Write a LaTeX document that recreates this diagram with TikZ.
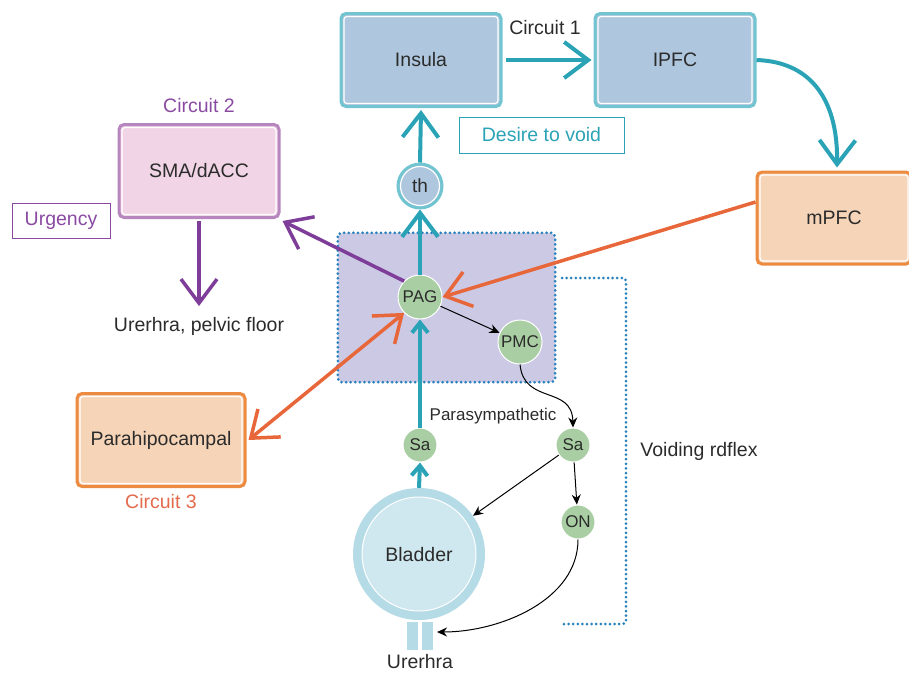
\documentclass[tikz,border=0pt]{standalone}
\usepackage{fontspec}
\setmainfont{Liberation Sans}
\usetikzlibrary{arrows.meta}
\definecolor{tealA}{HTML}{2BA3B6}
\definecolor{tealB}{HTML}{72C4D0}
\definecolor{blueF}{HTML}{AFC7DE}
\definecolor{pinkF}{HTML}{F1D5E6}
\definecolor{pinkB}{HTML}{B886BE}
\definecolor{peachF}{HTML}{F5D4B8}
\definecolor{orangeB}{HTML}{EC8A3F}
\definecolor{orangeA}{HTML}{E8673A}
\definecolor{purpA}{HTML}{7E3D99}
\definecolor{purpT}{HTML}{8A4AA2}
\definecolor{lavF}{HTML}{CCC9E5}
\definecolor{dotB}{HTML}{2A82BC}
\definecolor{greenF}{HTML}{A9CEA3}
\definecolor{bladO}{HTML}{B4DBE6}
\definecolor{bladI}{HTML}{CFE8EF}
\definecolor{txt}{HTML}{2B2B2B}
\definecolor{circ3}{HTML}{E36A4B}
\begin{document}
\begin{tikzpicture}[x=1pt,y=-1pt,
  lbl/.style={text=txt,font=\fontsize{19.5}{22}\selectfont},
  inwhite/.style={path picture={\draw[white,line width=1.2pt,rounded corners=3pt]
     ([shift={(3,3)}]path picture bounding box.north west) rectangle
     ([shift={(-3,-3)}]path picture bounding box.south east);}},
  box/.style={rectangle,rounded corners=5pt,line width=3pt,inwhite,lbl,
     minimum width=160pt,minimum height=93pt,inner sep=0pt},
  tealbox/.style={box,draw=tealB,fill=blueF},
  pinkbox/.style={box,draw=pinkB,fill=pinkF},
  peachbox/.style={box,draw=orangeB,fill=peachF},
  gcirc/.style={circle,fill=greenF,draw=white,line width=1pt,text=txt,
     font=\fontsize{17}{18}\selectfont,inner sep=0pt,minimum size=#1},
  tagbox/.style={rectangle,draw=#1,text=#1,line width=1pt,
     font=\fontsize{19.5}{22}\selectfont,inner sep=0pt},
  bigarrow/.style={line width=4pt,-{Straight Barb[length=24pt,width=36pt]}},
  smallarrow/.style={line width=4pt,-{Straight Barb[length=10pt,width=16pt]}},
  thin/.style={line width=1pt,-{Stealth[length=10pt,width=9pt]}},
  dotline/.style={draw=dotB,line width=3pt,line cap=round,dash pattern=on 0pt off 4.6pt}
]
\useasboundingbox (0,0) rectangle (909,673);

% PAG region
\node[draw=none,fill=lavF,rounded corners=5pt,minimum width=217pt,minimum height=149pt,inner sep=0pt] (region) at (446.5,307.5) {};
\draw[dotline,rounded corners=4pt] (region.north west) rectangle (region.south east);
\coordinate (b1) at (562,278);
\coordinate (b2) at (626,278);
\coordinate (b3) at (626,624);
\coordinate (b4) at (562,624);
\draw[dotline,rounded corners=3pt] (b1) -- (b2) -- (b3) -- (b4);

% boxes
\node[tealbox] (insula) at (421,60) {Insula};
\node[tealbox] (ipfc) at (675,60) {IPFC};
\node[peachbox,minimum width=154pt,minimum height=92pt] (mpfc) at (834,218) {mPFC};
\node[pinkbox] (sma) at (199,171) {SMA/dACC};
\node[peachbox,minimum width=168pt] (para) at (161,440) {Parahipocampal};

% tags
\node[tagbox=tealA,minimum width=165pt,minimum height=36pt] (desire) at (541.5,135) {Desire to void};
\node[tagbox=purpT,minimum width=98pt,minimum height=35pt] (urg) at (61,220.5) {Urgency};
\node[lbl] (c1) at (545,28) {Circuit 1};
\node[lbl,text=purpT] (c2) at (199,106) {Circuit 2};
\node[lbl,text=circ3] (c3) at (161,502) {Circuit 3};
\node[lbl] (uf) at (199,326) {Urerhra, pelvic floor};
\node[lbl] (vr) at (699,451) {Voiding rdflex};
\coordinate (ufend) at (199,306);

% th circle
\node[circle,fill=blueF,draw=tealB,line width=3pt,minimum size=44pt,inner sep=0pt,lbl,font=\fontsize{19}{20}\selectfont,
  path picture={\draw[white,line width=1.2pt] (path picture bounding box.center) circle (19.5pt);}] (th) at (420,186) {th};

% green circles
\node[gcirc=44pt] (pag) at (420,297) {PAG};
\node[gcirc=44pt] (pmc) at (520,342) {PMC};
\node[gcirc=34pt] (sa1) at (420,445) {Sa};
\node[gcirc=34pt] (sa2) at (573,445) {Sa};
\node[gcirc=34pt] (on) at (578,522) {ON};

% bladder
\node[circle,fill=bladO,minimum size=132pt,inner sep=0pt,
  path picture={\fill[bladI] (path picture bounding box.center) circle (57pt);
                \draw[white,line width=1pt] (path picture bounding box.center) circle (57pt);}] (bladder) at (419,554) {};
\node[lbl] (bltext) at (419,555) {Bladder};
\node[fill=bladO,minimum width=11pt,minimum height=28pt,inner sep=0pt] (u1) at (412.5,636) {};
\node[fill=bladO,minimum width=11pt,minimum height=28pt,inner sep=0pt] (u2) at (427.5,636) {};
\node[lbl] (ut) at (420,662) {Urerhra};
\coordinate (uend) at (437,632);

\node[text=txt,font=\fontsize{17}{18}\selectfont] (ps) at (493,416) {Parasympathetic};

% teal arrows
\draw[bigarrow,draw=tealA] (insula.east) ++(3,0) -- ([xshift=-2pt]ipfc.west);
\draw[bigarrow,draw=tealA] (th.north) -- ([yshift=-2pt]insula.south);
\draw[bigarrow,draw=tealA] (pag.north) -- (th.south);
\draw[bigarrow,draw=tealA] (ipfc.east) .. controls (815,62) and (838,105) .. ([xshift=3pt,yshift=3pt]mpfc.north);
\draw[smallarrow,draw=tealA] (sa1.north) -- (pag.south);
\draw[smallarrow,draw=tealA] (bladder.north) -- (sa1.south);

% purple
\draw[bigarrow,draw=purpA,line width=3.5pt] (pag.north west) -- ([shift={(2pt,-2pt)}]sma.south east);
\draw[bigarrow,draw=purpA,line width=3.5pt] ([yshift=-2pt]sma.south) -- (ufend);

% orange
\draw[bigarrow,draw=orangeA,line width=3.5pt] ([yshift=16pt]mpfc.west) -- (pag.east);
\draw[line width=3.5pt,draw=orangeA,{Straight Barb[length=24pt,width=36pt]}-{Straight Barb[length=24pt,width=36pt]}] (pag.south west) -- ([xshift=2pt]para.east);

% thin black
\draw[thin] (pag) -- (pmc);
\draw[thin] (pmc.south) .. controls (524,405) and (572,385) .. (sa2.north);
\draw[thin] (sa2) -- (bladder);
\draw[thin] (sa2) -- (on);
\draw[thin] (on.south) .. controls (578,600) and (500,632) .. (uend);
\end{tikzpicture}
\end{document}
